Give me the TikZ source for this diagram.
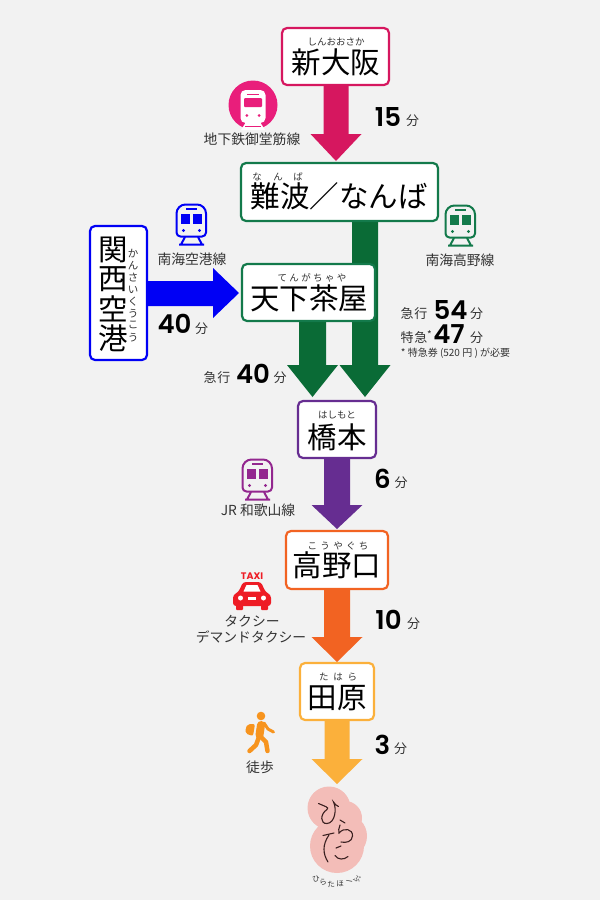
\documentclass[tikz,border=0pt]{standalone}
\usepackage{fontspec}
\setmainfont{Noto Sans CJK JP}
\newfontfamily\numf{Poppins SemiBold}
\newfontfamily\taxif{Poppins}
\definecolor{bg}{HTML}{F2F2F2}
\definecolor{cred}{HTML}{D6175F}
\definecolor{cpink}{HTML}{E91E7B}
\definecolor{cgreen}{HTML}{0A6B36}
\definecolor{cgbord}{HTML}{137A4B}
\definecolor{cblue}{HTML}{0000F5}
\definecolor{cpur}{HTML}{662D91}
\definecolor{cjr}{HTML}{93278F}
\definecolor{cora}{HTML}{F26322}
\definecolor{cyel}{HTML}{FBB03B}
\definecolor{ctxt}{HTML}{333333}
\definecolor{ctaxi}{HTML}{EE1C25}
\definecolor{cwalk}{HTML}{F7941E}
\definecolor{cblob}{HTML}{F3BDB8}
\definecolor{cink}{HTML}{3A2020}
\tikzset{
 x=1pt,y=-1pt,
 station/.style={rounded corners=5pt,line width=2.2pt,fill=white,draw=#1},
 main/.style={inner sep=0,font=\fontsize{29.5}{30}\selectfont,text=black},
 ruby/.style={inner sep=0,font=\fontsize{9.5}{10}\selectfont,text=ctxt},
 minute/.style={inner sep=0,font=\fontsize{26}{26}\selectfont\numf,text=black},
 fen/.style={inner sep=0,font=\fontsize{13}{13}\selectfont,text=ctxt},
 lab/.style={inner sep=0,font=\fontsize{13.8}{14}\selectfont,text=ctxt},
 hand/.style={line width=1.1pt,draw=cink,line cap=round},
}
\newcommand{\vdown}[7]{% cx, top, shaftHalf, headTop, headHalf, tip, colour
 \fill[#7] (#1-#3,#2)--(#1+#3,#2)--(#1+#3,#4)--(#1+#5,#4)--(#1,#6)--(#1-#5,#4)--(#1-#3,#4)--cycle;}
\newcommand{\trainicon}[3]{% x,y,colour
 \begin{scope}[shift={(#1,#2)}]
 \draw[#3,line width=2pt,rounded corners=9pt] (1.5,20)--(1.5,1.5)--(31,1.5)--(31,20)[rounded corners=4pt]--(31,33.5)--(1.5,33.5)--cycle;
 \draw[#3,line width=1.3pt] (11,6)--(22,6);
 \fill[#3] (6,11) rectangle (15.2,20.5);
 \fill[#3] (17.8,11) rectangle (27,20.5);
 \fill[#3] (8.5,27.5) circle (1.7);
 \fill[#3] (24.5,27.5) circle (1.7);
 \draw[#3,line width=2pt] (4,41.5)--(29,41.5) (10,34)--(6,41.5) (23,34)--(27,41.5);
 \end{scope}}
\begin{document}
\begin{tikzpicture}
\useasboundingbox (0,0) rectangle (600,900);
\fill[bg] (0,0) rectangle (600,900);
% arrows
\vdown{336}{84}{12.5}{134}{25.5}{161}{cred}
\vdown{365}{220}{13}{365}{25.5}{397}{cgreen}
\vdown{312.5}{320}{13.5}{365}{25.5}{397}{cgreen}
\fill[cblue] (146,281)--(213,281)--(213,268)--(239,293)--(213,318)--(213,306)--(146,306)--cycle;
\vdown{337}{457}{13}{505}{25.5}{529}{cpur}
\vdown{337}{588}{13}{637}{25.5}{662}{cora}
\vdown{337}{719}{12.5}{759}{25.5}{784}{cyel}
% stations
\draw[station=cred] (282,28) rectangle (389,85);
\node[main] (shinosaka) at (336,62) {新大阪};
\node[ruby] (rshinosaka) at (336,42) {しんおおさか};
\draw[station=cgbord] (241,163) rectangle (438,221);
\node[main] (namba) at (339,196) {難波／なんば};
\node[ruby] (r1) at (257,177) {な};
\node[ruby] (r2) at (278,177) {ん};
\node[ruby] (r3) at (298,177) {ば};
\draw[station=cgbord] (242,264) rectangle (375,321);
\node[main] (tenga) at (309,298) {天下茶屋};
\node[ruby,font=\fontsize{9.5}{10}\selectfont\addfontfeatures{LetterSpace=25}] (rtenga) at (312,278) {てんがちゃや};
\draw[station=cblue] (90,226) rectangle (147,360);
\node[main] (k1) at (113,250) {関};
\node[main] (k2) at (113,279) {西};
\node[main] (k3) at (113,309) {空};
\node[main] (k4) at (113,338) {港};
\foreach \c [count=\i from 0] in {か,ん,さ,い,く,う,こ,う}
  \node[ruby,font=\fontsize{10.5}{11}\selectfont] (rk\i) at (133,254+11.9*\i) {\c};
\draw[station=cpur] (298,401) rectangle (376,458);
\node[main] (hashi) at (337,437) {橋本};
\node[ruby] (rhashi) at (337,415) {はしもと};
\draw[station=cora] (286,531) rectangle (388,589);
\node[main] (koya) at (337,565) {高野口};
\node[ruby,font=\fontsize{9.5}{10}\selectfont\addfontfeatures{LetterSpace=35}] (rkoya) at (338,546) {こうやぐち};
\draw[station=cyel] (300,663) rectangle (374,720);
\node[main] (tahara) at (337,698) {田原};
\node[ruby,font=\fontsize{9.5}{10}\selectfont\addfontfeatures{LetterSpace=50}] (rtahara) at (338,677) {たはら};
% pink icon
\fill[cpink] (253,105) circle (24.5);
\fill[white,rounded corners=5pt] (240.5,90) rectangle (265.5,123);
\fill[cpink,rounded corners=1pt] (244,98) rectangle (262,107);
\draw[cpink,line width=1pt] (247,94)--(259,94);
\fill[cpink] (246.8,115.5) circle (1.5);
\fill[cpink] (259.2,115.5) circle (1.5);
\fill[white] (246,122)--(260,122)--(265,130)--(241,130)--cycle;
\fill[cpink] (245,125.5) rectangle (261,127);
% train icons
\trainicon{175}{203}{cblue}
\trainicon{444}{204}{cgbord}
\trainicon{241}{458}{cjr}
% labels
\node[lab] (l1) at (252,139) {地下鉄御堂筋線};
\node[lab] (l2) at (192,259) {南海空港線};
\node[lab] (l3) at (460,260) {南海高野線};
\node[lab] (l4) at (258,510) {JR 和歌山線};
\node[lab] (l5) at (252,621) {タクシー};
\node[lab] (l6) at (251,637) {デマンドタクシー};
\node[lab] (l7) at (260,767) {徒歩};
% minutes
\node[minute] (m1) at (388,117) {15}; \node[fen] (f1) at (412.5,121) {分};
\node[minute] (m2) at (174.5,324) {40}; \node[fen] (f2) at (201.5,329) {分};
\node[fen,font=\fontsize{13}{13}\selectfont\addfontfeatures{LetterSpace=5}] (k5) at (217,378) {急行};
\node[minute] (m3) at (253,374) {40}; \node[fen] (f3) at (280,378) {分};
\node[fen,font=\fontsize{13}{13}\selectfont\addfontfeatures{LetterSpace=5}] (k6) at (414,314) {急行};
\node[minute] (m4) at (450.5,310) {54}; \node[fen] (f4) at (476.5,314) {分};
\node[fen,font=\fontsize{13}{13}\selectfont\addfontfeatures{LetterSpace=5}] (k7) at (414,338) {特急};
\node[fen,font=\fontsize{10}{10}\selectfont] (ast) at (429.5,335) {*};
\node[minute] (m5) at (449,334) {47}; \node[fen] (f5) at (476.5,338) {分};
\node[inner sep=0,font=\fontsize{10}{10}\selectfont,text=ctxt] (note) at (455.5,353.5) {* 特急券 (520 円 ) が必要};
\node[minute] (m6) at (382.5,479) {6}; \node[fen] (f6) at (401,483) {分};
\node[minute] (m7) at (388.5,620) {10}; \node[fen] (f7) at (413.5,624) {分};
\node[minute] (m8) at (382.5,745) {3}; \node[fen] (f8) at (400.5,749) {分};
% taxi
\node[inner sep=0,text=ctaxi,font=\fontsize{9.5}{10}\selectfont\taxif\bfseries] (taxi) at (252,576) {TAXI};
\fill[ctaxi,rounded corners=3pt] (233,606)--(233,595)--(238.5,592)--(243,582)--(261,582)--(265.5,592)--(271,595)--(271,606)--cycle;
\fill[ctaxi,rounded corners=1pt] (236,604) rectangle (243,610);
\fill[ctaxi,rounded corners=1pt] (261,604) rectangle (268,610);
\fill[white] (243.5,591.5)--(246.5,585)--(257.5,585)--(260.5,591.5)--cycle;
\fill[white] (240.5,598) circle (2.5);
\fill[white] (263.5,598) circle (2.5);
\fill[white] (248,596.5) rectangle (256,599.5);
% walker
\fill[cwalk] (261,716) circle (4.3);
\draw[cwalk,line width=8pt,line cap=round] (261,725)--(259.5,735);
\draw[cwalk,line width=3pt,line cap=round,line join=round] (264,723)--(268,729)--(273.5,732);
\draw[cwalk,line width=4.5pt,line cap=round,line join=round] (260,736)--(266,742)--(267.5,751);
\draw[cwalk,line width=4.5pt,line cap=round,line join=round] (259,737)--(256,745)--(249.5,751);
\fill[cwalk,rounded corners=2pt] (248,724)--(255,724)--(253,736)--(245.5,733.5)--(245.5,728)--cycle;
% hirata blob
\fill[cblob] (329,808) circle (21.5);
\fill[cblob] (345,818) circle (17);
\fill[cblob] (345,836) circle (22);
\fill[cblob] (337,846) circle (27);
\draw[hand] (318.5,803.5) .. controls (324,806) and (330,807.5) .. (327,809.5) .. controls (320,814) and (320,824) .. (327,823.5) .. controls (335,823) and (337,809) .. (333.5,802) .. controls (334.5,804) and (337,806) .. (338.5,806.5);
\draw[hand] (340,820) -- (345,823);
\draw[hand] (340,825) .. controls (339,828) and (338,831) .. (339,833) .. controls (344,827) and (353,829) .. (352.5,836) .. controls (352,842) and (346,843) .. (341,842);
\draw[hand] (323,835.5) -- (334,833);
\draw[hand] (329,835) .. controls (322,845) and (323,854) .. (328,862);
\draw[hand] (336,848) -- (341,846);
\draw[hand] (335,855.5) .. controls (338,860) and (344,860) .. (348,856.5);
% curved caption
\foreach \c/\xx/\yy/\rr [count=\i] in {ひ/316/879/-15,ら/323/882/-10,た/331/884/-5,ほ/340/884/0,ー/349/883/10,ぷ/357/879/15}
  \node[inner sep=0,text=ctxt,rotate=-\rr,font=\fontsize{7.5}{8}\selectfont] (cap\i) at (\xx,\yy) {\c};
\end{tikzpicture}
\end{document}
